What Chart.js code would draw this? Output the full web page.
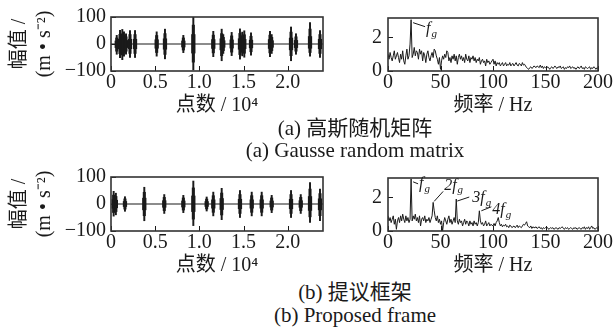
<!DOCTYPE html>
<html>
<head>
<meta charset="utf-8">
<script src="https://cdn.jsdelivr.net/npm/chart.js@4.4.0/dist/chart.umd.min.js"></script>
<style>
  body { margin: 0; background: #fff; }
  #page { position: relative; width: 613px; height: 330px; overflow: hidden; }
  canvas { position: absolute; }
  .cap {
    position: absolute; left: 155px; width: 400px; text-align: center;
    font-family: "Liberation Serif", "Noto Sans CJK SC", serif;
    font-size: 21px; line-height: 22px; color: #1a1a1a; white-space: nowrap;
  }
</style>
</head>
<body>
<div id="page">
  <canvas id="timeA" width="330" height="118" style="left:0;top:0"></canvas>
  <canvas id="specA" width="283" height="118" style="left:330px;top:0"></canvas>
  <canvas id="timeB" width="330" height="118" style="left:0;top:160px"></canvas>
  <canvas id="specB" width="283" height="118" style="left:330px;top:160px"></canvas>
  <div class="cap" style="top:117px">(a) 高斯随机矩阵</div>
  <div class="cap" style="top:139px">(a) Gausse random matrix</div>
  <div class="cap" style="top:281px">(b) 提议框架</div>
  <div class="cap" style="top:304px">(b) Proposed frame</div>
</div>
<script>
// axis ticks
const timeTicks = [0, 0.5, 1.0, 1.5, 2.0];
const ampTicks = [-100, 0, 100];
const freqTicks = [0, 50, 100, 150, 200];
const specTicks = [0, 2];

// (a) Gaussian random matrix - impact bursts (position in 10^4 points, peak / trough)
const burstPosA = [0.065, 0.102, 0.128, 0.147, 0.170, 0.215, 0.272, 0.517, 0.611, 0.819, 0.932, 1.158, 1.253,
  1.271, 1.366, 1.460, 1.486, 1.509, 1.585, 1.800, 1.819, 2.038, 2.094, 2.253, 2.366];
const burstHiA = [32, 51, 54, 45, 38, 50, 50, 45, 55, 32, 100, 47, 55, 35, 43, 56, 44, 49, 41, 47, 35, 63, 38, 79, 50];
const burstLoA = [-38, -51, -58, -45, -38, -50, -50, -45, -55, -32, -96, -47, -62, -35, -43, -56, -44, -49, -41,
  -47, -35, -62, -38, -45, -50];

// (b) proposed frame
const burstPosB = [0.030, 0.055, 0.158, 0.377, 0.603, 0.819, 0.932, 1.083, 1.158, 1.253, 1.460, 1.593, 1.706,
  1.819, 2.038, 2.148, 2.253, 2.366];
const burstHiB = [47, 40, 27, 62, 35, 32, 85, 26, 44, 58, 50, 44, 44, 32, 50, 35, 79, 55];
const burstLoB = [-45, -40, -27, -62, -35, -32, -80, -26, -44, -58, -50, -44, -44, -32, -50, -35, -68, -62];

// spectra, one value per Hz (0..200)
const specA = [
  1.0, 0.7, 1.1, 0.8, 0.6, 0.9, 1.2, 0.7, 0.9, 1.1,
  0.8, 0.5, 1.0, 0.7, 1.2, 0.6, 0.4, 0.9, 1.3, 0.7,
  0.9, 1.6, 3.05, 0.8, 1.0, 1.4, 0.9, 1.2, 1.1, 0.7,
  1.3, 1.0, 1.2, 0.6, 1.1, 0.9, 0.5, 1.0, 1.2, 0.8,
  0.6, 0.9, 1.1, 0.8, 1.3, 1.2, 0.9, 0.7, 0.4, 0.8,
  0.1, 0.6, 0.9, 0.7, 1.0, 0.8, 1.2, 1.1, 0.6, 0.8,
  0.5, 0.9, 0.7, 1.0, 0.6, 0.9, 0.4, 0.8, 1.0, 0.7,
  0.9, 0.6, 0.8, 0.5, 1.0, 0.7, 0.6, 0.9, 0.5, 0.8,
  0.7, 0.9, 0.6, 0.8, 0.5, 0.7, 0.6, 0.8, 0.4, 0.6,
  0.7, 0.5, 0.6, 0.3, 0.7, 0.5, 0.6, 0.4, 0.5, 0.6,
  0.7, 0.4, 0.6, 0.3, 0.5, 0.4, 0.5, 0.3, 0.4, 0.5,
  0.3, 0.4, 0.5, 0.3, 0.4, 0.35, 0.5, 0.3, 0.4, 0.45,
  0.3, 0.4, 0.5, 0.35, 0.3, 0.45, 0.4, 0.3, 0.5, 0.35,
  0.4, 0.3, 0.2, 0.15, 0.1, 0.2, 0.25, 0.15, 0.2, 0.3,
  0.25, 0.2, 0.3, 0.25, 0.2, 0.35, 0.2, 0.3, 0.15, 0.25,
  0.2, 0.15, 0.25, 0.2, 0.1, 0.2, 0.25, 0.15, 0.2, 0.3,
  0.2, 0.15, 0.25, 0.2, 0.3, 0.15, 0.2, 0.25, 0.1, 0.2,
  0.15, 0.25, 0.2, 0.3, 0.15, 0.2, 0.25, 0.15, 0.2, 0.1,
  0.2, 0.25, 0.15, 0.2, 0.3, 0.15, 0.2, 0.1, 0.25, 0.2,
  0.15, 0.2, 0.25, 0.1, 0.2, 0.15, 0.25, 0.2, 0.1, 0.2,
  0.15
];
const specB = [
  0.9, 0.6, 0.8, 0.5, 0.7, 0.9, 0.4, 0.7, 0.1, 0.6,
  0.8, 0.5, 0.9, 0.6, 1.0, 0.7, 0.5, 0.9, 0.6, 0.8,
  0.5, 0.7, 3.1, 0.6, 0.9, 0.7, 1.0, 0.6, 0.8, 0.5,
  0.9, 0.3, 0.7, 0.8, 0.6, 0.9, 0.5, 0.7, 0.6, 0.8,
  0.5, 0.7, 0.9, 1.7, 1.2, 0.8, 0.6, 0.9, 0.5, 0.7,
  0.4, 0.6, 0.0, 0.5, 0.8, 0.6, 0.4, 0.7, 0.9, 0.5,
  0.7, 0.4, 0.6, 0.8, 0.5, 1.9, 0.6, 0.4, 0.7, 0.5,
  0.6, 0.3, 0.5, 0.7, 0.4, 0.6, 0.5, 0.3, 0.6, 0.4,
  0.5, 0.3, 0.6, 0.4, 0.5, 0.3, 0.5, 1.2, 0.6, 0.4,
  0.5, 0.3, 0.4, 0.6, 0.3, 0.4, 0.5, 0.3, 0.4, 0.35,
  0.3, 0.45, 0.3, 0.5, 0.6, 0.8, 0.5, 0.3, 0.4, 0.25,
  0.35, 0.3, 0.4, 0.25, 0.3, 0.2, 0.35, 0.3, 0.2, 0.25,
  0.3, 0.2, 0.25, 0.35, 0.2, 0.3, 0.25, 0.2, 0.3, 0.4,
  0.35, 0.45, 0.55, 0.3, 0.25, 0.2, 0.3, 0.15, 0.25, 0.2,
  0.2, 0.25, 0.15, 0.2, 0.25, 0.15, 0.2, 0.1, 0.2, 0.15,
  0.2, 0.15, 0.2, 0.1, 0.15, 0.2, 0.15, 0.2, 0.1, 0.15,
  0.2, 0.15, 0.1, 0.2, 0.15, 0.2, 0.25, 0.15, 0.1, 0.2,
  0.15, 0.2, 0.1, 0.15, 0.2, 0.15, 0.1, 0.2, 0.15, 0.2,
  0.1, 0.15, 0.2, 0.15, 0.1, 0.2, 0.15, 0.25, 0.1, 0.2,
  0.15, 0.25, 0.1, 0.2, 0.3, 0.15, 0.2, 0.1, 0.15, 0.2,
  0.15
];
const freqHz = specA.map((_, i) => i);   // 1 Hz bins

// harmonic marks: frequency, multiple label
const marksA = [{ hz: 22, pre: '' }];
const marksB = [{ hz: 22, pre: '' }, { hz: 43, pre: '2' }, { hz: 65, pre: '3' }, { hz: 87, pre: '4' }];

const serif = '"Liberation Serif", "Noto Sans CJK SC", serif';
const ink = '#1a1a1a';
Chart.defaults.font.family = serif;
Chart.defaults.color = ink;

// frame + inward tick marks
const framePlugin = {
  id: 'framePlugin',
  afterDraw(chart) {
    const { ctx, chartArea: a, scales } = chart;
    ctx.save();
    ctx.strokeStyle = ink;
    ctx.lineWidth = 1;
    ctx.beginPath();
    scales.x.ticks.forEach(t => {
      const px = Math.round(scales.x.getPixelForValue(t.value)) + 0.5;
      ctx.moveTo(px, a.bottom); ctx.lineTo(px, a.bottom - 5);
    });
    scales.y.ticks.forEach(t => {
      const py = Math.round(scales.y.getPixelForValue(t.value)) + 0.5;
      ctx.moveTo(a.left, py); ctx.lineTo(a.left + 5, py);
    });
    ctx.stroke();
    ctx.lineWidth = 1.6;
    ctx.strokeStyle = '#333';
    ctx.strokeRect(a.left, a.top, a.width, a.height);
    ctx.restore();
  }
};

// leader lines + f_g labels on spectrum peaks
const leaderOffsets = {
  '':  { A: [2, 3, 14, 7, 15, 9], B: [2, 3, 7, 5, 8, 5] },
  '2': [1, -1, 10, -11, 11, -17],
  '3': [1, 2, 13, -2, 16, -1],
  '4': [2, 0, 12, -4, 13, -1]
};
const peakPlugin = {
  id: 'peakPlugin',
  afterDraw(chart, args, opts) {
    if (!opts.marks) return;
    const { ctx, scales } = chart;
    const data = chart.data.datasets[0].data;
    ctx.save();
    ctx.strokeStyle = ink;
    ctx.fillStyle = ink;
    ctx.lineWidth = 1;
    opts.marks.forEach(m => {
      const px = scales.x.getPixelForValue(m.hz);
      const py = scales.y.getPixelForValue(data[m.hz].y);
      let o = leaderOffsets[m.pre];
      if (!Array.isArray(o)) o = o[opts.which];
      ctx.beginPath();
      ctx.moveTo(px + o[0], py + o[1]);
      ctx.lineTo(px + o[2], py + o[3]);
      ctx.stroke();
      let x = px + o[4];
      const y = py + o[5];
      ctx.textBaseline = 'middle';
      ctx.font = 'italic 16px ' + serif;
      const main = m.pre + 'f';
      ctx.fillText(main, x, y);
      x += ctx.measureText(main).width + 1;
      ctx.font = 'italic 11px ' + serif;
      ctx.fillText('g', x, y + 5);
    });
    ctx.restore();
  }
};

function xScale(min, max, tickList, title, fmt) {
  return {
    type: 'linear', min, max, offset: false,
    afterBuildTicks: s => { s.ticks = tickList.map(v => ({ value: v })); },
    ticks: { font: { size: 20 }, color: ink, padding: 0, maxRotation: 0, autoSkip: false, callback: fmt },
    grid: { display: false, drawTicks: false },
    border: { display: false },
    title: { display: true, text: title, color: ink, font: { size: 20, lineHeight: 1.2 }, padding: 0 },
    afterFit: s => { s.height = 47; }
  };
}

function makeTimeChart(id, pos, hi, lo) {
  // each burst drawn as a tapered spindle: thin full-range stroke plus denser inner layers
  const layer = (k) => pos.map((p, i) => ({ x: p, y: [lo[i] * k, hi[i] * k] }));
  new Chart(document.getElementById(id), {
    type: 'bar',
    data: {
      datasets: [
        { type: 'line', data: [{ x: 0, y: 0 }, { x: 2.4, y: 0 }], borderColor: ink, borderWidth: 1.2, pointRadius: 0 },
        { data: layer(1), backgroundColor: ink, barThickness: 1.3, grouped: false },
        { data: layer(0.7), backgroundColor: ink, barThickness: 2.4, grouped: false },
        { data: layer(0.35), backgroundColor: ink, barThickness: 3.6, grouped: false }
      ]
    },
    options: {
      responsive: false, animation: false, devicePixelRatio: 1,
      layout: { padding: { top: 14, right: 7, bottom: 0, left: 0 } },
      plugins: { legend: { display: false }, tooltip: { enabled: false } },
      scales: {
        x: xScale(0, 2.4, timeTicks, '点数 / 10⁴', v => v === 0 ? '0' : v.toFixed(1)),
        y: {
          min: -100, max: 100,
          afterBuildTicks: s => { s.ticks = ampTicks.map(v => ({ value: v })); },
          ticks: { font: { size: 20 }, color: ink, padding: 5, callback: v => String(v).replace('-', '\u2212') },
          grid: { display: false, drawTicks: false },
          border: { display: false },
          title: { display: true, text: ['幅值 /', '(m • s⁻²)'], color: ink,
                   font: { size: 20, lineHeight: 1.25 }, padding: { top: 7.5, bottom: 0 } },
          afterFit: s => { s.width = 111; }
        }
      }
    },
    plugins: [framePlugin]
  });
}

function makeSpecChart(id, values, marks, which) {
  new Chart(document.getElementById(id), {
    type: 'line',
    data: {
      datasets: [{
        data: values.map((v, i) => ({ x: freqHz[i], y: v })),
        borderColor: ink, borderWidth: 1, pointRadius: 0, tension: 0
      }]
    },
    options: {
      responsive: false, animation: false, devicePixelRatio: 1,
      layout: { padding: { top: 14, right: 13, bottom: 0, left: 0 } },
      plugins: { legend: { display: false }, tooltip: { enabled: false }, peakPlugin: { marks, which } },
      scales: {
        x: xScale(0, 200, freqTicks, '频率 / Hz', v => String(v)),
        y: {
          min: 0, max: 3.15,
          afterBuildTicks: s => { s.ticks = specTicks.map(v => ({ value: v })); },
          ticks: { font: { size: 20 }, color: ink, padding: 6 },
          grid: { display: false, drawTicks: false },
          border: { display: false },
          afterFit: s => { s.width = 58; }
        }
      }
    },
    plugins: [framePlugin, peakPlugin]
  });
}

makeTimeChart('timeA', burstPosA, burstHiA, burstLoA);
makeSpecChart('specA', specA, marksA, 'A');
makeTimeChart('timeB', burstPosB, burstHiB, burstLoB);
makeSpecChart('specB', specB, marksB, 'B');
</script>
</body>
</html>
